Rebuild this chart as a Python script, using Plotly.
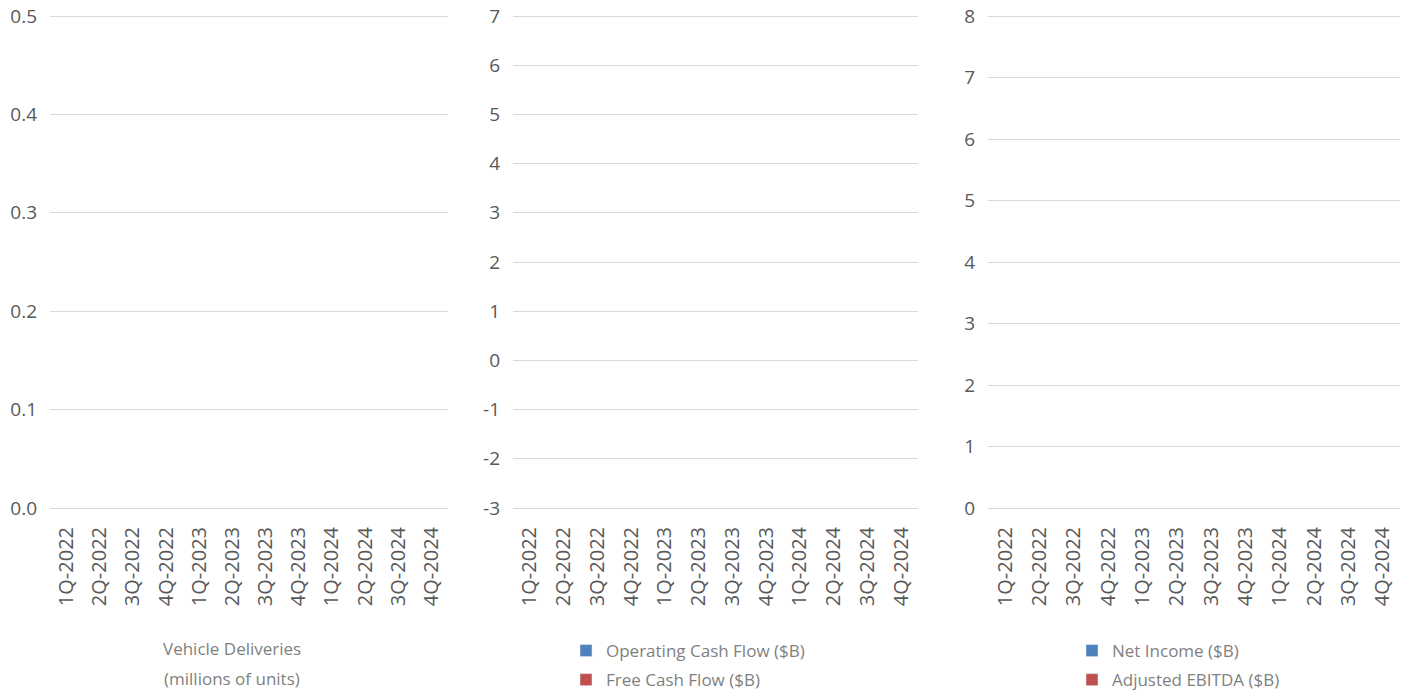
import plotly.graph_objects as go

quarters = ["1Q-2022", "2Q-2022", "3Q-2022", "4Q-2022", "1Q-2023", "2Q-2023",
            "3Q-2023", "4Q-2023", "1Q-2024", "2Q-2024", "3Q-2024", "4Q-2024"]

# No bars are visible in the reference: the series carry no drawn values.
vehicle_deliveries = [None, None, None, None, None, None, None, None, None, None, None, None]
operating_cash_flow = [None, None, None, None, None, None, None, None, None, None, None, None]
free_cash_flow = [None, None, None, None, None, None, None, None, None, None, None, None]
net_income = [None, None, None, None, None, None, None, None, None, None, None, None]
adjusted_ebitda = [None, None, None, None, None, None, None, None, None, None, None, None]

y1_ticks = [0.0, 0.1, 0.2, 0.3, 0.4, 0.5]
y1_labels = ["0.0", "0.1", "0.2", "0.3", "0.4", "0.5"]
y2_ticks = [-3, -2, -1, 0, 1, 2, 3, 4, 5, 6, 7]
y2_labels = ["-3", "-2", "-1", "0", "1", "2", "3", "4", "5", "6", "7"]
y3_ticks = [0, 1, 2, 3, 4, 5, 6, 7, 8]
y3_labels = ["0", "1", "2", "3", "4", "5", "6", "7", "8"]

W, H = 1411, 698
BLUE = "#4F81BD"
RED = "#C0504D"
TICK = "#595959"
LEG = "#7F7F7F"
GRID = "#D9D9D9"
FONT = "Open Sans"

# plot area: top grid line at y=16px, bottom grid line at y=508px
TOP_PX, BOT_PX, PAD_PX = 16, 508, 3

def px_x(p):
    return p / W

def px_y(p):
    return 1 - p / H

fig = go.Figure()

fig.add_trace(go.Bar(x=quarters, y=vehicle_deliveries, name="Vehicle Deliveries (millions of units)",
                     marker_color=BLUE, xaxis="x", yaxis="y", showlegend=False))
fig.add_trace(go.Bar(x=quarters, y=operating_cash_flow, name="Operating Cash Flow ($B)",
                     marker_color=BLUE, xaxis="x2", yaxis="y2", legend="legend2",
                     legendgroup="ocf"))
fig.add_trace(go.Bar(x=quarters, y=free_cash_flow, name="Free Cash Flow ($B)",
                     marker_color=RED, xaxis="x2", yaxis="y2", legend="legend2",
                     legendgroup="fcf"))
fig.add_trace(go.Bar(x=quarters, y=net_income, name="Net Income ($B)",
                     marker_color=BLUE, xaxis="x3", yaxis="y3", legend="legend3",
                     legendgroup="ni"))
fig.add_trace(go.Bar(x=quarters, y=adjusted_ebitda, name="Adjusted EBITDA ($B)",
                     marker_color=RED, xaxis="x3", yaxis="y3", legend="legend3",
                     legendgroup="ebitda"))

ydom = [px_y(BOT_PX + PAD_PX), px_y(TOP_PX - PAD_PX)]

def xaxis(dom, anchor):
    return dict(domain=dom, anchor=anchor, type="category", categoryorder="array",
                categoryarray=quarters, tickvals=quarters, range=[-0.5, 11.5],
                tickangle=-90, showgrid=False, showline=False, zeroline=False,
                tickfont=dict(family=FONT, size=20, color=TICK), ticklabelstandoff=11,
                automargin=False, fixedrange=True)

def yaxis(anchor, lo, hi, ticks, labels):
    eps = (hi - lo) * PAD_PX / (BOT_PX - TOP_PX)
    return dict(domain=ydom, anchor=anchor, range=[lo - eps, hi + eps],
                tickvals=ticks, ticktext=labels,
                showgrid=True, gridcolor=GRID, gridwidth=1, zeroline=False, showline=False,
                tickfont=dict(family=FONT, size=19, color=TICK), ticklabelstandoff=12,
                automargin=False, fixedrange=True)

legend_common = dict(yanchor="bottom", xanchor="left", bgcolor="rgba(0,0,0,0)",
                     font=dict(family=FONT, size=17, color=LEG),
                     traceorder="grouped", tracegroupgap=4, itemwidth=30)

fig.update_layout(
    width=W, height=H,
    margin=dict(l=0, r=0, t=0, b=0, autoexpand=False),
    paper_bgcolor="white", plot_bgcolor="white",
    font=dict(family=FONT, color=TICK),
    xaxis=xaxis([px_x(50), px_x(448)], "y"),
    xaxis2=xaxis([px_x(513), px_x(918)], "y2"),
    xaxis3=xaxis([px_x(988), px_x(1400)], "y3"),
    yaxis=yaxis("x", 0, 0.5, y1_ticks, y1_labels),
    yaxis2=yaxis("x2", -3, 7, y2_ticks, y2_labels),
    yaxis3=yaxis("x3", 0, 8, y3_ticks, y3_labels),
    legend2=dict(x=px_x(566), y=px_y(698), **legend_common),
    legend3=dict(x=px_x(1072), y=px_y(698), **legend_common),
    annotations=[
        dict(text="Vehicle Deliveries", x=px_x(232), y=px_y(648), xref="paper", yref="paper",
             xanchor="center", yanchor="middle", showarrow=False,
             font=dict(family=FONT, size=17, color=LEG)),
        dict(text="(millions of units)", x=px_x(232), y=px_y(678), xref="paper", yref="paper",
             xanchor="center", yanchor="middle", showarrow=False,
             font=dict(family=FONT, size=17, color=LEG)),
    ],
)

fig.write_html("out.html")
